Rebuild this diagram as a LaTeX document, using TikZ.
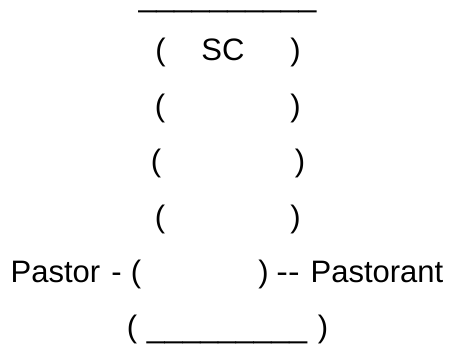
\documentclass[tikz,border=0pt]{standalone}
\usepackage{fontspec}
\setmainfont{Liberation Sans}
\usepackage{tikz}
\usetikzlibrary{positioning}
\tikzset{txt/.style={inner sep=0pt,anchor=base,font=\fontsize{31}{36}\selectfont}}
\tikzset{bar/.style={inner sep=0pt,anchor=base,font=\fontsize{32}{36}\selectfont}}
\begin{document}
\begin{tikzpicture}[x=1pt,y=-1pt]

        \useasboundingbox (0,0) rectangle (449,346);

        \node [bar] (topbar) at (227.5,6.5) {\_\_\_\_\_\_\_\_\_\_};


        \node [txt] (lp1) at (160.5,60.5) {(};
        \node [txt] (sc) at (223,60.5) {SC};
        \node [txt] (rp1) at (295.5,60.5) {)};


        \node [txt] (lp2) at (160,116.5) {(};
        \node [txt] (rp2) at (295.5,116.5) {)};


        \node [txt] (lp3) at (156,171.5) {(};
        \node [txt] (rp3) at (300,171.5) {)};


        \node [txt] (lp4) at (160,227.5) {(};
        \node [txt] (rp4) at (295.5,227.5) {)};


        \node [txt,anchor=base west] (pastor) at (10.5,282) {Pastor};
        \node [txt] (dash) at (116.5,282) {-};
        \node [txt] (lp5) at (136,282) {(};
        \node [txt] (rp5) at (263.5,282) {)};
        \node [txt,xscale=1.12] (dashes) at (288,282) {-{}-};
        \node [txt,anchor=base east] (pastorant) at (443.5,282) {Pastorant};


        \node [txt] (lp6) at (132,337) {(};
        \node [bar] (lowbar) at (227,337) {\_\_\_\_\_\_\_\_\_};
        \node [txt] (rp6) at (323,337) {)};

%        \node [txt] at (227,390) {( )};
    \end{tikzpicture}
\end{document}
